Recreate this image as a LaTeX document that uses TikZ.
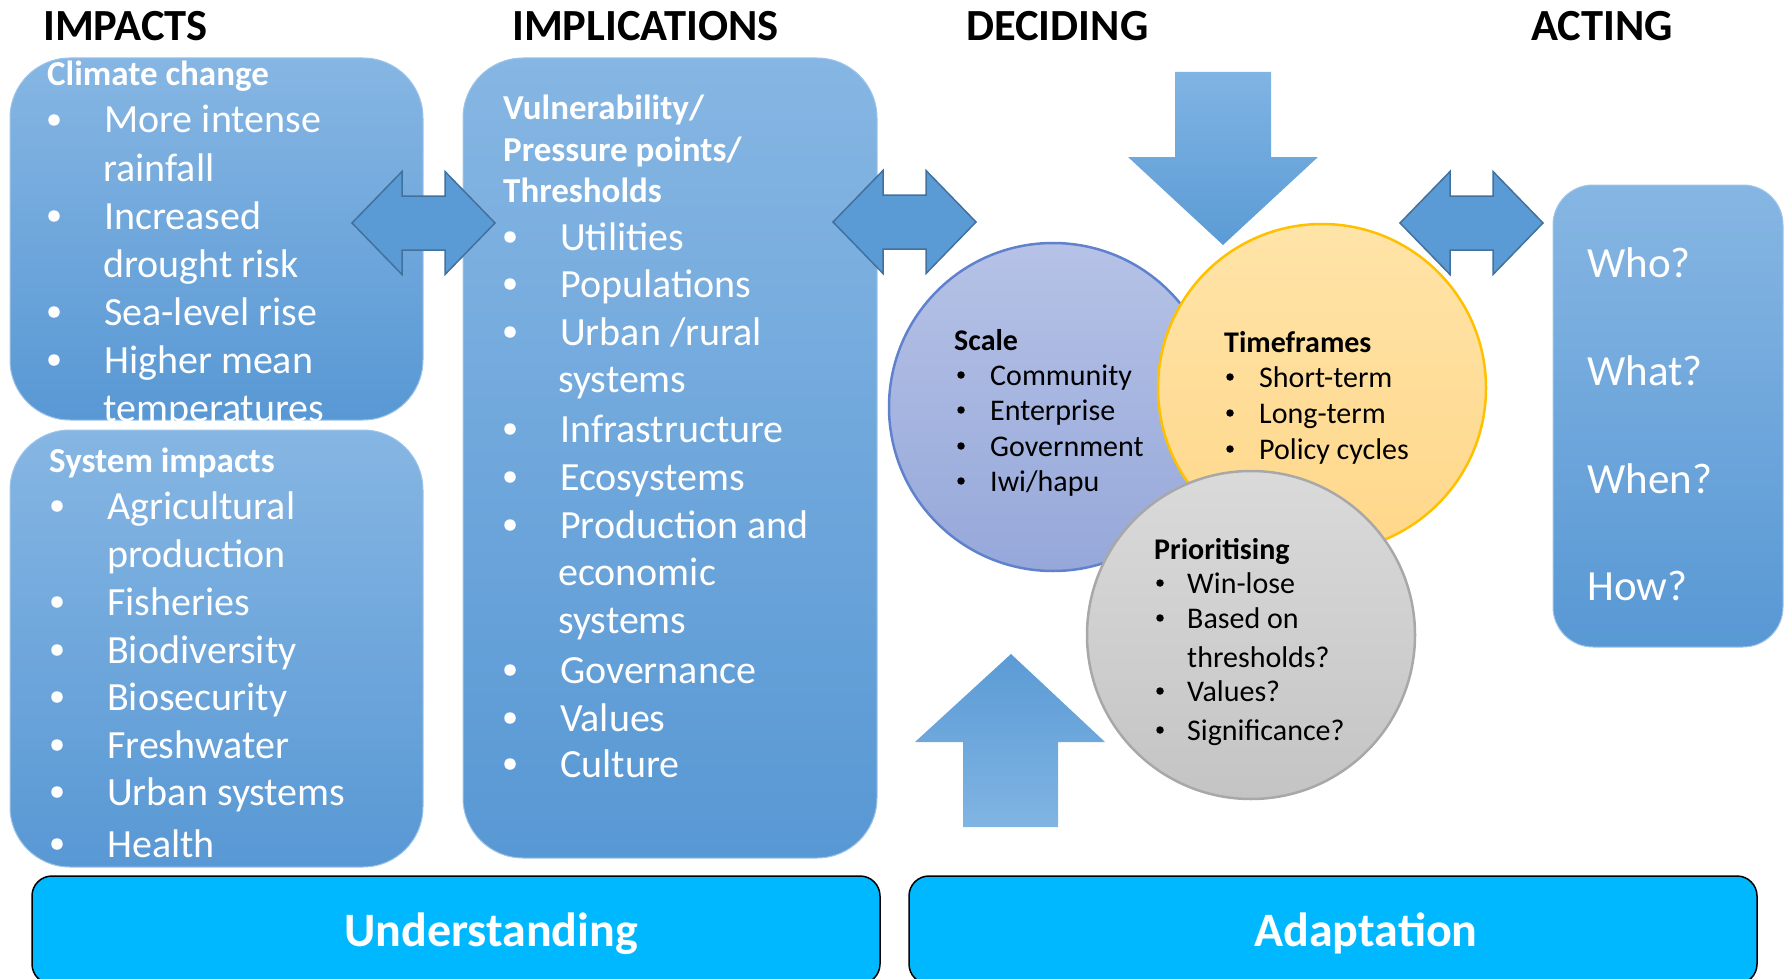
\documentclass[tikz,border=0pt]{standalone}
\usepackage{fontspec}
\setmainfont{Carlito}
\newcommand\fBig{\fontsize{40}{48}\selectfont}
\newcommand\fHd{\bfseries\fontsize{35}{42}\selectfont}
\newcommand\fHead{\bfseries\fontsize{44.5}{53}\selectfont}
\newcommand\fCir{\fontsize{30}{36}\selectfont}
\newcommand\fAct{\fontsize{43}{52}\selectfont}
\newcommand\fBar{\bfseries\fontsize{48}{58}\selectfont}
\definecolor{boxtop}{RGB}{134,182,227}
\definecolor{boxbot}{RGB}{88,152,212}
\definecolor{arrfill}{RGB}{91,155,213}
\definecolor{arrline}{RGB}{65,113,156}
\definecolor{arrlight}{RGB}{128,180,227}
\definecolor{barfill}{RGB}{0,184,255}
\definecolor{scaletop}{RGB}{182,194,230}
\definecolor{scalebot}{RGB}{150,168,218}
\definecolor{scaleline}{RGB}{96,130,205}
\definecolor{timetop}{RGB}{255,228,168}
\definecolor{timebot}{RGB}{255,215,138}
\definecolor{timeline}{RGB}{255,192,0}
\definecolor{pritop}{RGB}{218,218,218}
\definecolor{pribot}{RGB}{196,196,196}
\definecolor{priline}{RGB}{168,168,168}
\newcommand\wbul[5]{%
  \node[wb] (#1b) at (#2,#4-13) {};
  \node[wt] (#1) at (#3,#4) {#5};}
\newcommand\kbul[5]{%
  \node[kb] (#1b) at (#2,#4-10) {};
  \node[kt] (#1) at (#3,#4) {#5};}
\begin{document}
\begin{tikzpicture}[x=1pt,y=-1pt,
  bluebox/.style={rectangle, rounded corners=60pt, top color=boxtop, bottom color=boxbot, draw=boxtop!80!white, line width=1pt, inner sep=0pt},
  actbox/.style={bluebox, rounded corners=40pt},
  barbox/.style={rectangle, rounded corners=20pt, fill=barfill, draw=black, line width=1.5pt, inner sep=0pt, text=white, font=\fBar},
  head/.style={anchor=base west, inner sep=0pt, text=black, font=\fHead},
  whd/.style={anchor=base west, inner sep=0pt, text=white, font=\fHd},
  wt/.style={anchor=base west, inner sep=0pt, text=white, font=\fBig},
  wb/.style={circle, fill=white, inner sep=0pt, minimum size=11.5pt},
  kt/.style={anchor=base west, inner sep=0pt, text=black, font=\fCir},
  kb/.style={circle, fill=black, inner sep=0pt, minimum size=7.5pt},
  khd/.style={anchor=base west, inner sep=0pt, text=black, font=\bfseries\fCir},
  acttxt/.style={anchor=base west, inner sep=0pt, text=white, font=\fAct},
  dbl/.style={fill=arrfill, draw=arrline, line width=1.5pt, line join=miter},
  circ/.style={circle, minimum size=328pt, inner sep=0pt, line width=2.5pt},
  dblarr/.pic={\path[dbl] (0,0) -- (50,-51.5) -- (50,-27) -- (93,-27) -- (93,-51.5) -- (143,0) -- (93,51.5) -- (93,27) -- (50,27) -- (50,51.5) -- cycle;}
]
\useasboundingbox (0,0) rectangle (1788,979);

% headings
\node[head] (hImp) at (43,41) {IMPACTS};
\node[head] (hImpl) at (512,41) {IMPLICATIONS};
\node[head] (hDec) at (966,41) {DECIDING};
\node[head] (hAct) at (1531,41) {ACTING};

% boxes
\node[bluebox, minimum width=413pt, minimum height=362pt] (cc) at (216.5,239) {};
\node[bluebox, minimum width=413pt, minimum height=437pt] (si) at (216.5,648.5) {};
\node[bluebox, minimum width=414pt, minimum height=800pt] (impl) at (670,458) {};
\node[actbox, minimum width=230pt, minimum height=462pt] (act) at (1668,416) {};

% bars
\node[barbox, minimum width=848pt, minimum height=108pt] (und) at (456,930) {};
\node[barbox, minimum width=848pt, minimum height=108pt] (adp) at (1333,930) {};
\node[anchor=base, inner sep=0pt, text=white, font=\fBar] (undt) at (491,946) {Understanding};
\node[anchor=base, inner sep=0pt, text=white, font=\fBar] (adpt) at (1366,946) {Adaptation};

% climate change box text
\node[whd] (cch) at (47,86) {Climate change};
\wbul{c1}{54}{104}{133}{More intense}
\node[wt] (c1b2) at (103,181) {rainfall};
\wbul{c2}{54}{104}{229}{Increased}
\node[wt] (c2b2) at (103,277) {drought risk};
\wbul{c3}{54}{104}{325}{Sea-level rise}
\wbul{c4}{54}{104}{373}{Higher mean}
\node[wt] (c4b2) at (103,421) {temperatures};

% system impacts text
\node[whd] (sih) at (49,472) {System impacts};
\wbul{s1}{57}{107}{519}{Agricultural}
\node[wt] (s1b2) at (107,567) {production};
\wbul{s2}{57}{107}{615}{Fisheries}
\wbul{s3}{57}{107}{663}{Biodiversity}
\wbul{s4}{57}{107}{710}{Biosecurity}
\wbul{s5}{57}{107}{758}{Freshwater}
\wbul{s6}{57}{107}{805}{Urban systems}
\wbul{s7}{57}{107}{857}{Health}

% implications text
\node[whd] (ih1) at (503,120) {Vulnerability/};
\node[whd] (ih2) at (503,161) {Pressure points/};
\node[whd] (ih3) at (503,202) {Thresholds};
\wbul{i1}{510}{560}{250}{Utilities}
\wbul{i2}{510}{560}{297}{Populations}
\wbul{i3}{510}{560}{345}{Urban /rural}
\node[wt] (i3b2) at (558,392) {systems};
\wbul{i4}{510}{560}{442}{Infrastructure}
\wbul{i5}{510}{560}{490}{Ecosystems}
\wbul{i6}{510}{560}{538}{Production and}
\node[wt] (i6b2) at (558,585) {economic};
\node[wt] (i6b3) at (558,633) {systems};
\wbul{i7}{510}{560}{683}{Governance}
\wbul{i8}{510}{560}{731}{Values}
\wbul{i9}{510}{560}{777}{Culture}

% acting text
\node[acttxt] (who) at (1587,277) {Who?};
\node[acttxt] (what) at (1587,385) {What?};
\node[acttxt] (when) at (1587,493) {When?};
\node[acttxt] (how) at (1587,600) {How?};

% double arrows
\pic (da1) at (352,223) {dblarr};
\pic (da2) at (833,222) {dblarr};
\pic (da3) at (1400,223) {dblarr};

% circles
\node[circ, top color=scaletop, bottom color=scalebot, draw=scaleline] (scale) at (1053,407) {};
\node[circ, top color=timetop, bottom color=timebot, draw=timeline] (time) at (1322,388) {};
\node[circ, top color=pritop, bottom color=pribot, draw=priline] (prio) at (1251,635) {};

% down and up arrows
\shade[top color=arrlight, bottom color=arrfill] (1175,72) -- (1271,72) -- (1271,157) -- (1318,157) -- (1223,245) -- (1128,157) -- (1175,157) -- cycle;
\shade[top color=arrfill, bottom color=arrlight] (1011,654) -- (1105,742) -- (1058,742) -- (1058,827) -- (963,827) -- (963,742) -- (915,742) -- cycle;

% circle texts
\node[khd] (sch) at (954,350) {Scale};
\kbul{k1}{961}{990}{385}{Community}
\kbul{k2}{961}{990}{420}{Enterprise}
\kbul{k3}{961}{990}{456}{Government}
\kbul{k4}{961}{990}{491}{Iwi/hapu}

\node[khd] (tfh) at (1224,352) {Timeframes};
\kbul{t1}{1230}{1259}{387}{Short-term}
\kbul{t2}{1230}{1259}{423}{Long-term}
\kbul{t3}{1230}{1259}{459}{Policy cycles}

\node[khd] (prh) at (1154,559) {Prioritising};
\kbul{p1}{1160}{1187}{593}{Win-lose}
\kbul{p2}{1160}{1187}{628}{Based on}
\node[kt] (p2b2) at (1187,667) {thresholds?};
\kbul{p3}{1160}{1187}{701}{Values?}
\kbul{p4}{1160}{1187}{740}{Significance?}
\end{tikzpicture}
\end{document}
